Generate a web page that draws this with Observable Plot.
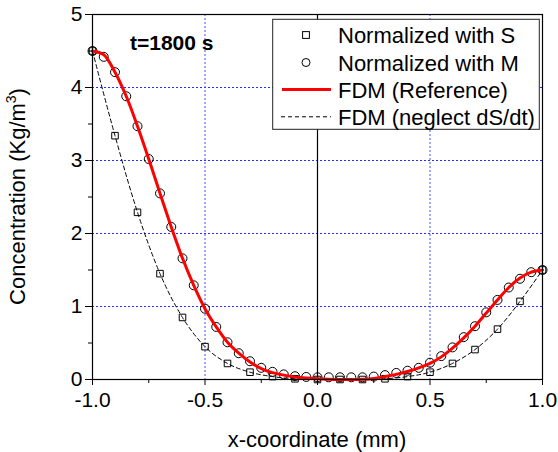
<!DOCTYPE html>
<html>
<head>
<meta charset="utf-8">
<script src="https://cdn.jsdelivr.net/npm/d3@7"></script>
<script src="https://cdn.jsdelivr.net/npm/@observablehq/plot@0.6"></script>
<style>
  html, body { margin: 0; padding: 0; background: white; }
  #chart { width: 558px; height: 452px; }
</style>
</head>
<body>
<div id="chart"></div>
<script>
// x positions of the "Normalized with M" circles and the reference curve
const xFine = [-1.00,-0.95,-0.90,-0.85,-0.80,-0.75,-0.70,-0.65,-0.60,-0.55,-0.50,-0.45,-0.40,-0.35,-0.30,-0.25,-0.20,-0.15,-0.10,-0.05,
               0.00,0.05,0.10,0.15,0.20,0.25,0.30,0.35,0.40,0.45,0.50,0.55,0.60,0.65,0.70,0.75,0.80,0.85,0.90,0.95,1.00];
// Normalized with M (circles)
const yM = [4.50,4.42,4.21,3.88,3.47,3.02,2.55,2.09,1.66,1.29,0.97,0.72,0.51,0.36,0.25,0.16,0.105,0.07,0.045,0.035,
            0.03,0.03,0.03,0.03,0.03,0.04,0.06,0.09,0.12,0.16,0.23,0.32,0.44,0.58,0.73,0.92,1.09,1.26,1.38,1.47,1.50];
// FDM (Reference) red curve
const yRef = [4.50,4.45,4.21,3.88,3.47,3.02,2.55,2.09,1.66,1.29,0.97,0.72,0.51,0.36,0.24,0.15,0.095,0.06,0.035,0.02,
              0.01,0.003,0.0,0.0,0.004,0.015,0.04,0.07,0.11,0.16,0.22,0.31,0.43,0.57,0.73,0.91,1.09,1.26,1.39,1.47,1.50];
// x positions of the "Normalized with S" squares and dashed curve
const xCoarse = [-1.0,-0.9,-0.8,-0.7,-0.6,-0.5,-0.4,-0.3,-0.2,-0.1,0.0,0.1,0.2,0.3,0.4,0.5,0.6,0.7,0.8,0.9,1.0];
// Normalized with S (squares) and FDM (neglect dS/dt)
const yS = [4.50,3.34,2.29,1.45,0.85,0.45,0.22,0.10,0.04,0.01,0.0,0.0,0.0,0.01,0.04,0.10,0.22,0.41,0.69,1.07,1.50];

const xMajorTicks = [-1.0,-0.5,0.0,0.5,1.0];
const xMinorTicks = [-0.75,-0.25,0.25,0.75];
const yMajorTicks = [0,1,2,3,4,5];
const yMinorTicks = [0.5,1.5,2.5,3.5,4.5];
const xGridLines = [-0.5,0.5];
const yGridLines = [1,2,3,4];

const legendLabels = ["Normalized with S","Normalized with M","FDM (Reference)","FDM (neglect dS/dt)"];
const titleText = "t=1800 s";
const xTitle = "x-coordinate (mm)";

const circles = xFine.map((x,i)=>({x, y: yM[i]}));
const ref = xFine.map((x,i)=>({x, y: yRef[i]}));
const squares = xCoarse.map((x,i)=>({x, y: yS[i]}));

const font = "'Liberation Sans', Arial, sans-serif";
const W = 558, H = 452, mL = 92, mR = 16, mT = 14, mB = 73;

const svg = Plot.plot({
  width: W, height: H,
  marginLeft: mL, marginRight: mR, marginTop: mT, marginBottom: mB,
  style: {fontFamily: font, fontSize: "21px", background: "white", color: "black"},
  x: {domain: [-1, 1]},
  y: {domain: [0, 5]},
  marks: [
    Plot.gridY(yGridLines, {stroke: "#2b2bff", strokeOpacity: 1, strokeDasharray: "2,2", strokeWidth: 1}),
    Plot.gridX(xGridLines, {stroke: "#4d4dff", strokeOpacity: 1, strokeDasharray: "2,2", strokeWidth: 1}),
    Plot.ruleX([0], {stroke: "black", strokeWidth: 1.2}),
    Plot.line(squares, {x: "x", y: "y", curve: "monotone-x", stroke: "black", strokeWidth: 1, strokeDasharray: "4,3"}),
    Plot.dot(squares, {x: "x", y: "y", symbol: "square", r: 3.7, stroke: "black", strokeWidth: 1, fill: "none"}),
    Plot.dot(circles, {x: "x", y: "y", r: 4.5, stroke: "black", strokeWidth: 1, fill: "none"}),
    Plot.line(ref, {x: "x", y: "y", curve: "monotone-x", stroke: "#ff0000", strokeWidth: 3}),
    Plot.axisX(xMajorTicks, {tickSize: 6, tickPadding: 7, tickFormat: d => d.toFixed(1), label: null, fontSize: 21}),
    Plot.axisX(xMinorTicks, {tickSize: 4, tickFormat: () => "", label: null}),
    Plot.axisY(yMajorTicks, {tickSize: 7, tickPadding: 3, tickFormat: d => String(d), label: null, fontSize: 21}),
    Plot.axisY(yMinorTicks, {tickSize: 4, tickFormat: () => "", label: null}),
    Plot.frame({stroke: "black", strokeWidth: 1.2})
  ]
});

const s = d3.select(svg);

// annotation
s.append("text").attr("x", 130).attr("y", 49.5)
  .attr("text-anchor", "start")
  .style("font-family", font).style("font-size", "21px").style("font-weight", "bold")
  .attr("fill", "black").text(titleText);

// axis titles
s.append("text").attr("x", (mL + W - mR) / 2).attr("y", 447)
  .attr("text-anchor", "middle").style("font-family", font).style("font-size", "22px")
  .attr("fill", "black").text(xTitle);

const yt = s.append("text")
  .attr("transform", `translate(25,${(mT + H - mB) / 2}) rotate(-90)`)
  .attr("text-anchor", "middle").style("font-family", font).style("font-size", "22px")
  .attr("fill", "black");
yt.append("tspan").text("Concentration (Kg/m");
yt.append("tspan").attr("dy", -9).style("font-size", "14px").text("3");
yt.append("tspan").attr("dy", 9).text(")");

// legend
const lg = s.append("g").attr("text-anchor", "start");
lg.append("rect").attr("x", 272.7).attr("y", 19.3).attr("width", 266.6).attr("height", 110)
  .style("fill", "white").style("stroke", "#222").style("stroke-width", "1px");
const rowY = [35, 62.5, 89.5, 116.8];
lg.append("rect").attr("x", 306 - 3.4).attr("y", rowY[0] - 3.4).attr("width", 6.8).attr("height", 6.8)
  .style("fill", "none").style("stroke", "black");
lg.append("circle").attr("cx", 306).attr("cy", rowY[1]).attr("r", 4)
  .style("fill", "none").style("stroke", "black");
lg.append("line").attr("x1", 282).attr("x2", 331).attr("y1", rowY[2]).attr("y2", rowY[2])
  .style("stroke", "#ff0000").style("stroke-width", "3px");
lg.append("line").attr("x1", 281).attr("x2", 331).attr("y1", rowY[3]).attr("y2", rowY[3])
  .style("stroke", "black").style("stroke-width", "1px").style("stroke-dasharray", "4,3");
legendLabels.forEach((t, i) => {
  lg.append("text").attr("x", 338).attr("y", rowY[i] + 8.2).attr("text-anchor", "start")
    .style("font-family", font).style("font-size", "22px").attr("fill", "black").text(t);
});

document.getElementById("chart").appendChild(svg);
</script>
</body>
</html>
